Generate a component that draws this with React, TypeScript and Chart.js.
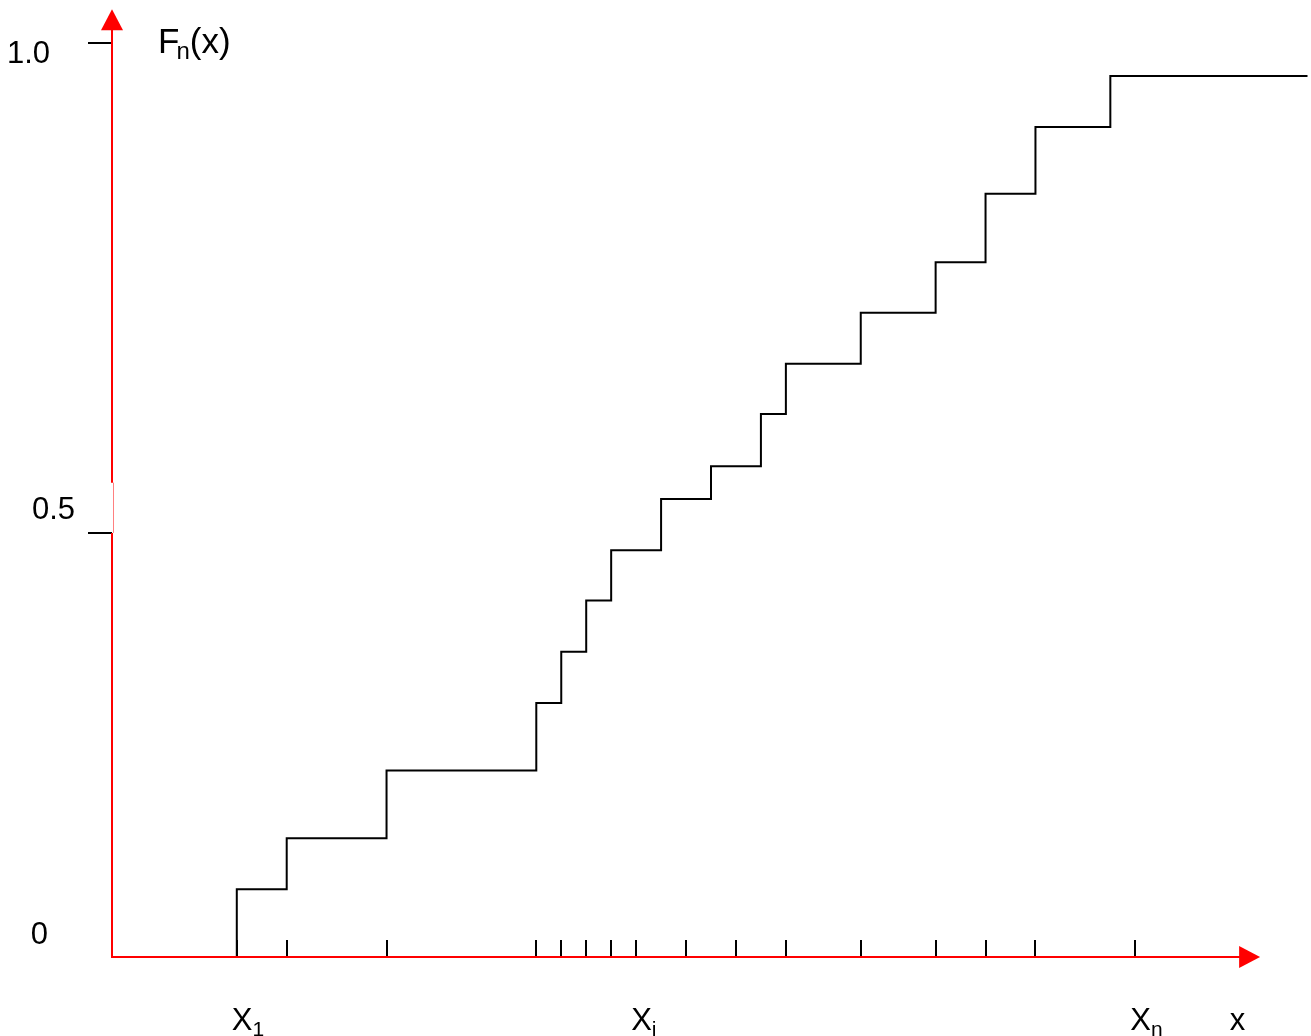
import React, { useEffect, useRef } from "react";
import { Chart, registerables } from "chart.js";

Chart.register(...registerables);

// Sample points where the empirical distribution function jumps
const X_JUMPS = [5, 7, 11, 17, 18, 19, 20, 22, 24, 26, 27, 30, 33, 35, 37, 40];
// Level of F_n(x) right after each jump
const F_LEVELS = [0.074, 0.130, 0.204, 0.278, 0.334, 0.390, 0.445, 0.501, 0.537, 0.594, 0.649, 0.705, 0.760, 0.835, 0.908, 0.964];
const X_END = 47.9;

// Short tick marks on the x axis (sample values)
const SAMPLE_TICKS = [5, 7, 11, 17, 18, 19, 20, 21, 23, 25, 27, 30, 33, 35, 37, 41];

// Labels under the x axis
const X_LABEL_POS = [5, 21, 41];
const X_LABEL_SUB = ["1", "i", "n"];
const X_AXIS_NAME_POS = 45.1;
const X_AXIS_NAME = "x";

// y tick marks and labels
const Y_TICK_VALUES = [0, 0.464, 1.0];
const Y_TICK_LABELS = ["0", "0.5", "1.0"];
const Y_TICK_MARKED = [false, true, true];
const Y_TITLE_MAIN = "F";
const Y_TITLE_SUB = "n";
const Y_TITLE_REST = "(x)";

const X_MAX = 48;
const X_ARROW_TIP = 46.0;
const X_ARROW_BASE = 45.2;
const Y_ARROW_TIP = 1.037;
const Y_ARROW_BASE = 1.015;
const Y_GAP = [0.464, 0.519];

const FONT = '"Liberation Sans", Arial, Helvetica, sans-serif';
const RED = "#ff0000";

// per-label placement styles (right edge offset from axis, vertical offset from tick)
const Y_LABEL_STYLE = [
  { right: -64, dy: -22 },
  { right: -37, dy: -22 },
  { right: -62, dy: 11 },
];

const overlayPlugin = {
  id: "ecdfOverlay",
  afterDatasetsDraw(chart: any) {
    const { ctx } = chart;
    const xs = chart.scales.x;
    const ys = chart.scales.y;
    const x0 = xs.getPixelForValue(0);
    const y0 = ys.getPixelForValue(0);
    ctx.save();

    // x-axis sample ticks
    ctx.strokeStyle = "#000";
    ctx.lineWidth = 2;
    ctx.beginPath();
    SAMPLE_TICKS.forEach((v) => {
      const px = Math.round(xs.getPixelForValue(v));
      ctx.moveTo(px, y0 - 17);
      ctx.lineTo(px, y0);
    });
    // y ticks
    Y_TICK_VALUES.forEach((v, i) => {
      if (!Y_TICK_MARKED[i]) return;
      const py = Math.round(ys.getPixelForValue(v));
      ctx.moveTo(x0 - 24, py);
      ctx.lineTo(x0, py);
    });
    ctx.stroke();

    // red axes
    ctx.strokeStyle = RED;
    ctx.lineWidth = 2;
    ctx.beginPath();
    ctx.moveTo(x0 - 1, y0);
    ctx.lineTo(xs.getPixelForValue(X_ARROW_BASE), y0);
    ctx.moveTo(x0, y0 + 1);
    ctx.lineTo(x0, ys.getPixelForValue(Y_GAP[0]));
    ctx.moveTo(x0, ys.getPixelForValue(Y_GAP[1]));
    ctx.lineTo(x0, ys.getPixelForValue(Y_ARROW_BASE));
    ctx.stroke();
    ctx.strokeStyle = "#ff8080";
    ctx.lineWidth = 1;
    ctx.beginPath();
    ctx.moveTo(x0 + 1.5, ys.getPixelForValue(Y_GAP[0]));
    ctx.lineTo(x0 + 1.5, ys.getPixelForValue(Y_GAP[1]));
    ctx.stroke();

    // arrow heads
    ctx.fillStyle = RED;
    ctx.beginPath();
    const tipX = xs.getPixelForValue(X_ARROW_TIP);
    const baseX = xs.getPixelForValue(X_ARROW_BASE) - 1;
    ctx.moveTo(tipX, y0);
    ctx.lineTo(baseX, y0 - 11);
    ctx.lineTo(baseX, y0 + 11);
    ctx.closePath();
    ctx.fill();
    ctx.beginPath();
    const tipY = ys.getPixelForValue(Y_ARROW_TIP);
    const baseY = ys.getPixelForValue(Y_ARROW_BASE) + 1;
    ctx.moveTo(x0, tipY);
    ctx.lineTo(x0 - 11, baseY);
    ctx.lineTo(x0 + 11, baseY);
    ctx.closePath();
    ctx.fill();

    // y labels
    ctx.fillStyle = "#000";
    ctx.font = `31px ${FONT}`;
    ctx.textAlign = "right";
    ctx.textBaseline = "middle";
    Y_TICK_VALUES.forEach((v, i) => {
      const py = ys.getPixelForValue(v);
      const st = Y_LABEL_STYLE[i];
      ctx.fillText(Y_TICK_LABELS[i], x0 + st.right, py + st.dy);
    });

    // y title F_n(x)
    ctx.textAlign = "left";
    ctx.textBaseline = "alphabetic";
    let tx = x0 + 46;
    const tb = ys.getPixelForValue(1) + 10;
    ctx.font = `35px ${FONT}`;
    ctx.fillText(Y_TITLE_MAIN, tx, tb);
    tx += ctx.measureText(Y_TITLE_MAIN).width - 3;
    ctx.font = `24px ${FONT}`;
    ctx.fillText(Y_TITLE_SUB, tx, tb + 6);
    tx += ctx.measureText(Y_TITLE_SUB).width;
    ctx.font = `35px ${FONT}`;
    ctx.fillText(Y_TITLE_REST, tx, tb);

    // x labels
    const lb = y0 + 73;
    X_LABEL_POS.forEach((v, i) => {
      let lx = xs.getPixelForValue(v) - 5;
      ctx.font = `31px ${FONT}`;
      ctx.fillText("X", lx, lb);
      lx += ctx.measureText("X").width;
      ctx.font = `21px ${FONT}`;
      ctx.fillText(X_LABEL_SUB[i], lx, lb + 6);
    });
    ctx.font = `31px ${FONT}`;
    ctx.textAlign = "center";
    ctx.fillText(X_AXIS_NAME, xs.getPixelForValue(X_AXIS_NAME_POS), lb);

    ctx.restore();
  },
};

export default function App() {
  const ref = useRef<HTMLCanvasElement | null>(null);
  useEffect(() => {
    document.body.style.margin = "0";
    const canvas = ref.current;
    if (!canvas) return;
    const points = [{ x: X_JUMPS[0], y: 0 }]
      .concat(X_JUMPS.map((x, i) => ({ x, y: F_LEVELS[i] })))
      .concat([{ x: X_END, y: F_LEVELS[F_LEVELS.length - 1] }]);
    const chart = new Chart(canvas, {
      type: "line",
      data: {
        datasets: [
          {
            data: points,
            stepped: "before",
            borderColor: "#000",
            borderWidth: 2,
            pointRadius: 0,
            fill: false,
          },
        ],
      },
      options: {
        responsive: false,
        animation: false,
        devicePixelRatio: 1,
        layout: { padding: { left: 112, right: 1, top: 43, bottom: 79 } },
        scales: {
          x: { type: "linear", min: 0, max: X_MAX, display: false },
          y: { type: "linear", min: 0, max: 1, display: false },
        },
        plugins: { legend: { display: false }, tooltip: { enabled: false } },
      },
      plugins: [overlayPlugin],
    } as any);
    return () => chart.destroy();
  }, []);
  return (
    <div style={{ width: 1311, height: 1036, background: "#fff" }}>
      <canvas ref={ref} width={1311} height={1036} style={{ display: "block" }} />
    </div>
  );
}
